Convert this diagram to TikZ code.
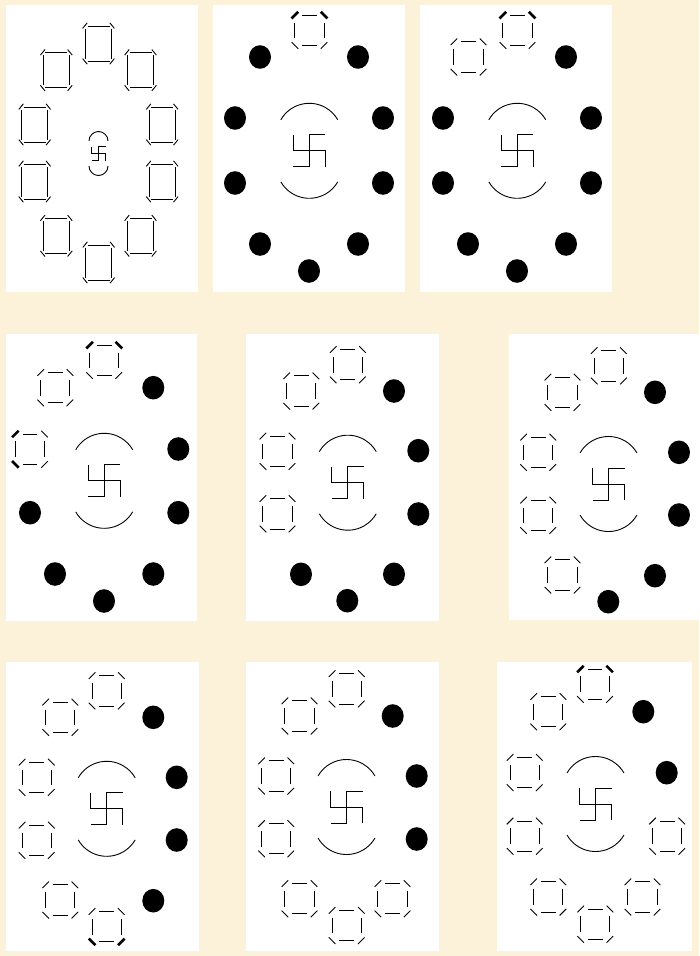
\documentclass[tikz,border=0pt]{standalone}
\definecolor{parch}{RGB}{252,241,217}
\tikzset{
  ln/.style={line width=0.9pt, draw=black, line cap=butt},
  panel/.style={fill=white, draw=none}
}
% box for panels 2-9: x, y, widths of TL, TR, BL, BR corner strokes
\newcommand\pbox[6]{%
\begin{scope}[shift={(#1,#2)}, ln]
\draw (-7.4,-15.2) -- (7.4,-15.2);
\draw (-7.4,15.2) -- (7.4,15.2);
\draw (-14.6,-7.8) -- (-14.6,7.8);
\draw (14.6,-7.8) -- (14.6,7.8);
\draw[line width=#3] (-17.9,-11.9) -- (-11.3,-18.5);
\draw[line width=#4] (11.3,-18.5) -- (17.9,-11.9);
\draw[line width=#5] (-17.9,11.9) -- (-11.3,18.5);
\draw[line width=#6] (11.3,18.5) -- (17.9,11.9);
\end{scope}}
\newcommand\nbox[2]{\pbox{#1}{#2}{0.9pt}{0.9pt}{0.9pt}{0.9pt}}
% tall box for panel 1
\newcommand\qbox[2]{%
\begin{scope}[shift={(#1,#2)}, ln]
\draw (-11,-17.5) -- (11,-17.5);
\draw (-11,17.5) -- (11,17.5);
\draw (-13.2,-15) -- (-13.2,15);
\draw (13.2,-15) -- (13.2,15);
\draw (-15.9,-15.1) -- (-11.3,-20.7);
\draw (11.3,-20.7) -- (15.9,-15.1);
\draw (-15.9,15.1) -- (-11.3,20.7);
\draw (11.3,20.7) -- (15.9,15.1);
\end{scope}}
\newcommand\pdot[2]{\fill[black] (#1,#2) ellipse [x radius=11, y radius=11.8];}
\newcommand\midsym[2]{%
\begin{scope}[shift={(#1,#2)}, ln]
\draw (-28.46,-31.07) arc[start angle=210,end angle=330,radius=32.86];
\draw (-28.46,31.07) arc[start angle=150,end angle=30,radius=32.86];
\draw (16,-16) -- (0,-16) -- (0,16) -- (-16,16);
\draw (-16,-16) -- (-16,0) -- (16,0) -- (16,16);
\end{scope}}
\newcommand\smallsym[2]{%
\begin{scope}[shift={(#1,#2)}, ln]
\draw (-9.5,-12.5) arc[start angle=180,end angle=360,radius=9.5];
\draw (-9.5,12.5) arc[start angle=180,end angle=0,radius=9.5];
\draw (7,-7) -- (0,-7) -- (0,7) -- (-7,7);
\draw (-7,-7) -- (-7,0) -- (7,0) -- (7,7);
\end{scope}}
\begin{document}
\begin{tikzpicture}[x=1pt,y=-1pt]
\useasboundingbox (0,0) rectangle (699,956);
\fill[parch] (0,0) rectangle (699,956);
% panels
\fill[panel] (5.5,5) rectangle (197.5,292);
\fill[panel] (213,5) rectangle (404.5,292);
\fill[panel] (420,5) rectangle (611.5,292);
\fill[panel] (6,334) rectangle (197,621);
\fill[panel] (246,334) rectangle (438.5,621);
\fill[panel] (509,334) rectangle (699,620);
\fill[panel] (6,662) rectangle (199,951);
\fill[panel] (246,662) rectangle (439,951);
\fill[panel] (497,662) rectangle (691.5,951);
% ---- panel 1
\qbox{98.5}{43.5}
\qbox{56.3}{70.2}\qbox{140.5}{70.2}
\qbox{34.7}{124.5}\qbox{162.2}{124.5}
\qbox{34.7}{181.5}\qbox{162.2}{181.5}
\qbox{56.3}{235.8}\qbox{140.5}{235.8}
\qbox{98.7}{262.5}
\smallsym{98.5}{153.5}
% ---- panel 2
\pbox{309.5}{30.3}{2.6pt}{2.6pt}{0.9pt}{0.9pt}
\pdot{260}{57}\pdot{358}{57}
\pdot{235}{118}\pdot{383}{118}
\pdot{235}{183}\pdot{383}{183}
\pdot{260}{244}\pdot{358}{244}
\pdot{309}{271}
\midsym{309.3}{150.8}
% ---- panel 3
\pbox{517.5}{30.3}{2.6pt}{2.6pt}{0.9pt}{0.9pt}
\nbox{468.5}{57}\pdot{566}{57}
\pdot{443}{118}\pdot{591}{118}
\pdot{443}{183}\pdot{591}{183}
\pdot{468}{244}\pdot{566}{244}
\pdot{517}{271}
\midsym{517.3}{150.8}
% ---- panel 4
\pbox{104.2}{360.3}{2.6pt}{2.6pt}{0.9pt}{0.9pt}
\nbox{55.3}{387.7}\pdot{153.3}{387.7}
\pbox{30}{449.2}{2.6pt}{0.9pt}{2.6pt}{0.9pt}\pdot{178.3}{449}
\pdot{30}{512.7}\pdot{178.3}{512.7}
\pdot{55}{574}\pdot{153.3}{574}
\pdot{104}{601}
\midsym{104.2}{480.8}
% ---- panel 5
\nbox{347.8}{364.7}
\nbox{301.3}{391}\pdot{394}{391}
\nbox{277.5}{451.3}\pdot{418.3}{450.7}
\nbox{277.5}{513.8}\pdot{418.3}{514}
\pdot{301}{574.3}\pdot{394}{574.3}
\pdot{347.3}{600.7}
\midsym{347.8}{482.7}
% ---- panel 6
\nbox{608.8}{365.8}
\nbox{562.5}{392.3}\pdot{655}{392.3}
\nbox{538.2}{452.3}\pdot{679}{452.3}
\nbox{538.2}{515.3}\pdot{679}{515}
\nbox{562.5}{575}\pdot{655}{575.7}
\pdot{608.3}{601.7}
\midsym{608.5}{484}
% ---- panel 7
\nbox{106.7}{690.8}
\nbox{60.3}{717.3}\pdot{153.3}{717.3}
\nbox{36.7}{777.3}\pdot{176.7}{777.3}
\nbox{36.7}{840.3}\pdot{176.7}{840}
\nbox{60.3}{900}\pdot{153.3}{900.7}
\pbox{106.7}{926.7}{0.9pt}{0.9pt}{2.6pt}{2.6pt}
\midsym{106.7}{808.8}
% ---- panel 8
\nbox{346.7}{688.8}
\nbox{299.5}{716}\pdot{392.7}{716}
\nbox{276.2}{776}\pdot{416.7}{776}
\nbox{276.2}{838.7}\pdot{416.7}{839}
\nbox{299.5}{898.7}\nbox{392.5}{898.7}
\nbox{346.7}{925.5}
\midsym{346.5}{807}
% ---- panel 9
\pbox{595}{684.2}{2.6pt}{2.6pt}{0.9pt}{0.9pt}
\nbox{548.3}{711.7}\pdot{643.3}{711.7}
\nbox{524.7}{772.5}\pdot{666.7}{772.7}
\nbox{524.7}{836.2}\nbox{667.2}{836.2}
\nbox{548.3}{897}\nbox{642.5}{897}
\nbox{595.3}{924.2}
\midsym{595.5}{804}
\end{tikzpicture}
\end{document}
